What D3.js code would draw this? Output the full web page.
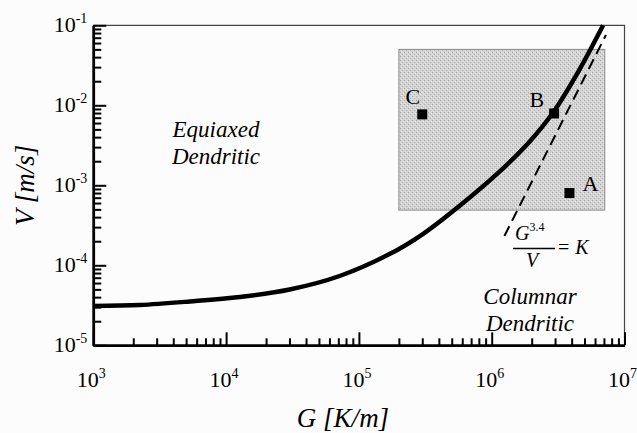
<!DOCTYPE html>
<html>
<head>
<meta charset="utf-8">
<script src="https://cdn.jsdelivr.net/npm/d3@7"></script>
<style>
  body { margin: 0; background: #fcfcfc; }
  svg { display: block; font-family: "Liberation Serif", "Times New Roman", "DejaVu Serif", serif; }
</style>
</head>
<body>
<svg id="chart" width="637" height="433"></svg>
<script>
// curve separating equiaxed / columnar
const curveG = [1e3, 2.24e3, 5.33e3, 1.27e4, 3.01e4, 7.16e4, 1.70e5, 3.03e5, 5.71e5, 1.14e6, 1.92e6, 2.88e6, 4.56e6, 6.9e6];
const curveV = [3.10e-5, 3.19e-5, 3.53e-5, 4.02e-5, 4.98e-5, 7.35e-5, 1.38e-4, 2.46e-4, 5.51e-4, 1.47e-3, 3.48e-3, 8.0e-3, 2.76e-2, 1e-1];

// G^3.4 / V = K line
const dashG = [1.246e6, 7.25e6];
const dashV = [2.32e-4, 7.57e-2];

// shaded process window
const boxG = [2e5, 7.1e6];
const boxV = [4.9e-4, 5e-2];

// points A, B, C
const pointNames = ["C", "B", "A"];
const pointG = [3.0e5, 2.95e6, 3.85e6];
const pointV = [7.7e-3, 7.9e-3, 8.0e-4];

const xDecades = [1e3, 1e4, 1e5, 1e6, 1e7];
const yDecades = [1e-5, 1e-4, 1e-3, 1e-2, 1e-1];

const MARGINS = {top: 25.3, right: 12.5, bottom: 87.7, left: 93.3};
const W = 637, H = 433;

let svg = d3.select("#chart");

let x = d3.scaleLog().domain([1e3, 1e7]).range([MARGINS.left, W - MARGINS.right]);
let y = d3.scaleLog().domain([1e-5, 1e-1]).range([H - MARGINS.bottom, MARGINS.top]);

// textured gray fill for the box
let defs = svg.append("defs");
let pat = defs.append("pattern")
    .attr("id", "stipple")
    .attr("width", 4).attr("height", 4)
    .attr("patternUnits", "userSpaceOnUse");
pat.append("rect").attr("width", 4).attr("height", 4).attr("fill", "#d4d4d4");
pat.append("rect").attr("x", 0).attr("y", 0).attr("width", 1).attr("height", 1).attr("fill", "#a8a8a8");
pat.append("rect").attr("x", 2).attr("y", 2).attr("width", 1).attr("height", 1).attr("fill", "#b4b4b4");
pat.append("rect").attr("x", 3).attr("y", 1).attr("width", 1).attr("height", 1).attr("fill", "#e8e8e8");
pat.append("rect").attr("x", 1).attr("y", 3).attr("width", 1).attr("height", 1).attr("fill", "#e4e4e4");

// frame (thin top + right)
svg.append("path")
    .attr("d", `M${x(1e3)},${y(1e-1)}H${x(1e7)}V${y(1e-5)}`)
    .attr("fill", "none")
    .attr("stroke", "#444")
    .attr("stroke-width", 1.2);

svg.append("rect")
    .attr("x", x(boxG[0]))
    .attr("y", y(boxV[1]))
    .attr("width", x(boxG[1]) - x(boxG[0]))
    .attr("height", y(boxV[0]) - y(boxV[1]))
    .attr("fill", "url(#stipple)")
    .attr("stroke", "#8a8a8a")
    .attr("stroke-width", 1);

// dashed K line
svg.append("line")
    .attr("x1", x(dashG[0])).attr("y1", y(dashV[0]))
    .attr("x2", x(dashG[1])).attr("y2", y(dashV[1]))
    .attr("stroke", "#000")
    .attr("stroke-width", 2)
    .attr("stroke-dasharray", "11,6");

// main curve
let line = d3.line()
    .x(d => x(d[0]))
    .y(d => y(d[1]))
    .curve(d3.curveCatmullRom.alpha(0.5));

svg.append("path")
    .datum(curveG.map((g, i) => [g, curveV[i]]))
    .attr("d", line)
    .attr("fill", "none")
    .attr("stroke", "#000")
    .attr("stroke-width", 4.5);

// points
let pts = pointNames.map((n, i) => ({name: n, g: pointG[i], v: pointV[i]}));
svg.selectAll("rect.pt")
    .data(pts)
    .enter().append("rect")
    .attr("class", "pt")
    .attr("x", d => x(d.g) - 5)
    .attr("y", d => y(d.v) - 5)
    .attr("width", 10).attr("height", 10)
    .attr("fill", "#000");

// label offsets relative to the marker
const labelOffset = {C: [-2, -10, "end"], B: [-10, -6, "end"], A: [13, -2, "start"]};
svg.selectAll("text.pt")
    .data(pts)
    .enter().append("text")
    .attr("class", "pt")
    .attr("x", d => x(d.g) + labelOffset[d.name][0])
    .attr("y", d => y(d.v) + labelOffset[d.name][1])
    .attr("text-anchor", d => labelOffset[d.name][2])
    .attr("font-size", 22)
    .text(d => d.name);

// axes
let minorX = d3.axisBottom(x).tickValues(x.ticks().filter(d => !xDecades.includes(d)))
    .tickSize(-7).tickSizeOuter(0).tickFormat("");
let majorX = d3.axisBottom(x).tickValues(xDecades)
    .tickSize(-13).tickSizeOuter(0).tickFormat("");
let minorY = d3.axisLeft(y).tickValues(y.ticks().filter(d => !yDecades.includes(d)))
    .tickSize(-8).tickSizeOuter(0).tickFormat("");
let majorY = d3.axisLeft(y).tickValues(yDecades)
    .tickSize(-13).tickSizeOuter(0).tickFormat("");

let gx = svg.append("g").attr("transform", `translate(0,${y(1e-5)})`);
gx.append("g").call(minorX);
gx.append("g").call(majorX);
let gy = svg.append("g").attr("transform", `translate(${x(1e3)},0)`);
gy.append("g").call(minorY);
gy.append("g").call(majorY);

svg.selectAll(".domain").attr("stroke", "#000").attr("stroke-width", 2.5);
svg.selectAll(".tick line").attr("stroke", "#000").attr("stroke-width", 2);

// tick labels with superscripts
let xl = svg.selectAll("text.xl")
    .data(xDecades)
    .enter().append("text")
    .attr("class", "xl")
    .attr("x", d => x(d) - 2)
    .attr("y", y(1e-5) + 42)
    .attr("text-anchor", "middle")
    .attr("font-size", 22);
xl.append("tspan").text("10");
xl.append("tspan").attr("font-size", 14).attr("dy", -9)
    .text(d => Math.round(Math.log10(d)));

let yl = svg.selectAll("text.yl")
    .data(yDecades)
    .enter().append("text")
    .attr("class", "yl")
    .attr("x", x(1e3) - 6)
    .attr("y", d => y(d) + 7)
    .attr("text-anchor", "end")
    .attr("font-size", 22);
yl.append("tspan").text("10");
yl.append("tspan").attr("font-size", 14).attr("dy", -9)
    .text(d => "-" + Math.abs(Math.round(Math.log10(d))));

// axis titles
svg.append("text")
    .attr("x", 343).attr("y", 427)
    .attr("text-anchor", "middle")
    .attr("font-size", 27)
    .attr("font-style", "italic")
    .text("G [K/m]");

svg.append("text")
    .attr("transform", `translate(34,${(y(1e-5) + y(1e-1)) / 2}) rotate(-90)`)
    .attr("text-anchor", "middle")
    .attr("font-size", 27)
    .attr("font-style", "italic")
    .text("V [m/s]");

// region labels
function twoLines(cx, y0, l1, l2){
    let t = svg.append("text")
        .attr("text-anchor", "middle")
        .attr("font-size", 23)
        .attr("font-style", "italic");
    t.append("tspan").attr("x", cx).attr("y", y0).text(l1);
    t.append("tspan").attr("x", cx).attr("y", y0 + 26.5).text(l2);
}
twoLines(216, 137, "Equiaxed", "Dendritic");
twoLines(530, 304, "Columnar", "Dendritic");

// G^3.4 / V = K
let f = svg.append("g").attr("font-size", 20);
let num = f.append("text").attr("x", 515).attr("y", 240);
num.append("tspan").attr("font-style", "italic").text("G");
num.append("tspan").attr("font-size", 12).attr("dy", -9).text("3.4");
f.append("line")
    .attr("x1", 513).attr("x2", 555)
    .attr("y1", 248.5).attr("y2", 248.5)
    .attr("stroke", "#000").attr("stroke-width", 1.5);
f.append("text").attr("x", 532).attr("y", 267)
    .attr("text-anchor", "middle")
    .attr("font-style", "italic").text("V");
let eq = f.append("text").attr("x", 558).attr("y", 254);
eq.append("tspan").text("=");
eq.append("tspan").attr("dx", 6).attr("font-style", "italic").text("K");
</script>
</body>
</html>
